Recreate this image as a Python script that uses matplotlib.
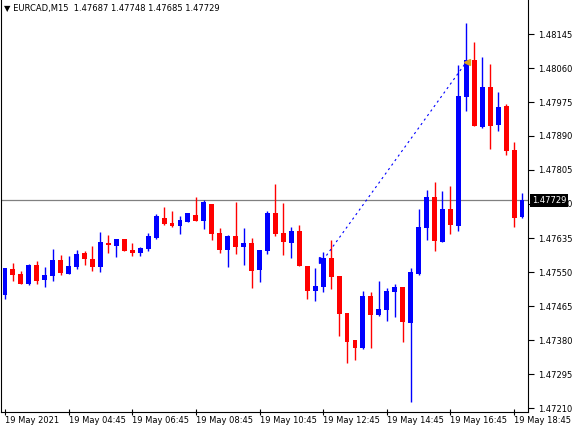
import matplotlib
matplotlib.use('Agg')
from matplotlib import pyplot as plt

opens = [1.47493, 1.47558, 1.47545, 1.47520, 1.47567, 1.47530, 1.47540, 1.47580, 1.47545, 1.47562,
         1.47597, 1.47582, 1.47562, 1.47622, 1.47615, 1.47632, 1.47605, 1.47597, 1.47607, 1.47635,
         1.47685, 1.47672, 1.47665, 1.47675, 1.47692, 1.47677, 1.47720, 1.47647, 1.47605, 1.47640,
         1.47612, 1.47622, 1.47555, 1.47602, 1.47697, 1.47647, 1.47622, 1.47652, 1.47565, 1.47502,
         1.47512, 1.47585, 1.47540, 1.47447, 1.47380, 1.47360, 1.47490, 1.47442, 1.47455, 1.47500,
         1.47512, 1.47422, 1.47545, 1.47660, 1.47737, 1.47625, 1.47707, 1.47665, 1.47987, 1.48080,
         1.47912, 1.48012, 1.47917, 1.47965, 1.47855, 1.47687]
highs = [1.47560, 1.47572, 1.47552, 1.47570, 1.47577, 1.47562, 1.47607, 1.47592, 1.47590, 1.47605,
         1.47602, 1.47615, 1.47650, 1.47642, 1.47632, 1.47633, 1.47622, 1.47612, 1.47647, 1.47695,
         1.47712, 1.47702, 1.47690, 1.47697, 1.47737, 1.47730, 1.47721, 1.47660, 1.47642, 1.47725,
         1.47660, 1.47635, 1.47605, 1.47702, 1.47770, 1.47722, 1.47662, 1.47667, 1.47566, 1.47560,
         1.47600, 1.47630, 1.47541, 1.47448, 1.47381, 1.47502, 1.47500, 1.47528, 1.47510, 1.47520,
         1.47513, 1.47560, 1.47707, 1.47755, 1.47775, 1.47752, 1.47765, 1.48067, 1.48172, 1.48125,
         1.48087, 1.48070, 1.48000, 1.47970, 1.47875, 1.47748]
lows = [1.47482, 1.47528, 1.47520, 1.47517, 1.47520, 1.47512, 1.47528, 1.47542, 1.47545, 1.47558,
        1.47567, 1.47552, 1.47550, 1.47597, 1.47587, 1.47602, 1.47590, 1.47590, 1.47602, 1.47632,
        1.47667, 1.47662, 1.47645, 1.47675, 1.47677, 1.47657, 1.47630, 1.47597, 1.47562, 1.47595,
        1.47567, 1.47510, 1.47525, 1.47595, 1.47640, 1.47592, 1.47585, 1.47565, 1.47482, 1.47477,
        1.47500, 1.47507, 1.47390, 1.47322, 1.47330, 1.47357, 1.47360, 1.47440, 1.47427, 1.47437,
        1.47375, 1.47225, 1.47542, 1.47630, 1.47602, 1.47625, 1.47645, 1.47652, 1.47952, 1.47915,
        1.47910, 1.47857, 1.47902, 1.47842, 1.47662, 1.47685]
closes = [1.47560, 1.47542, 1.47520, 1.47567, 1.47528, 1.47542, 1.47580, 1.47547, 1.47565, 1.47595,
          1.47582, 1.47562, 1.47625, 1.47617, 1.47632, 1.47602, 1.47597, 1.47610, 1.47640, 1.47690,
          1.47670, 1.47665, 1.47680, 1.47697, 1.47677, 1.47725, 1.47645, 1.47605, 1.47640, 1.47612,
          1.47622, 1.47552, 1.47605, 1.47697, 1.47645, 1.47625, 1.47652, 1.47565, 1.47502, 1.47515,
          1.47585, 1.47537, 1.47445, 1.47375, 1.47360, 1.47490, 1.47442, 1.47457, 1.47502, 1.47512,
          1.47425, 1.47550, 1.47662, 1.47737, 1.47627, 1.47707, 1.47667, 1.47990, 1.48080, 1.47915,
          1.48012, 1.47915, 1.47962, 1.47852, 1.47685, 1.47729]

time_labels = ['19 May 2021', '19 May 04:45', '19 May 06:45', '19 May 08:45', '19 May 10:45',
               '19 May 12:45', '19 May 14:45', '19 May 16:45', '19 May 18:45']
price_ticks = [1.48145, 1.48060, 1.47975, 1.47890, 1.47805, 1.47720, 1.47635,
               1.47550, 1.47465, 1.47380, 1.47295, 1.47210]
last_price = 1.47729
# trend line drawn on the chart (bar index, price)
trend_start = (40, 1.47580)
trend_end = (58, 1.48075)

ymin = 1.47200
ymax = 1.48230
fig = plt.figure(figsize=(5.72, 4.32), dpi=100)
ax = fig.add_axes([1 / 572, 20 / 432, 527 / 572, 1 - 20 / 432])
ax.set_xlim(-0.5, 65.75)
ax.set_ylim(ymin, ymax)

for i in range(len(opens)):
    col = '#0000ff' if closes[i] >= opens[i] else '#ff0000'
    ax.vlines(i, lows[i], highs[i], color=col, linewidth=1)
    lo = min(opens[i], closes[i])
    h = max(abs(closes[i] - opens[i]), 0.00002)
    ax.bar(i, h, bottom=lo, width=0.62, color=col, linewidth=0)

ax.axhline(last_price, color='#808080', linewidth=0.9, zorder=0)
ax.plot([trend_start[0], trend_end[0]], [trend_start[1], trend_end[1]],
        color='#0000ff', linestyle=(0, (2, 3)), linewidth=0.8)
ax.plot(trend_start[0] - 0.15, trend_start[1], marker='>', color='#0000ff', markersize=5)
ax.plot(trend_end[0] + 0.1, trend_end[1], marker='<', color='#daa520', markersize=5)

ax.yaxis.tick_right()
ax.set_yticks(price_ticks)
ax.set_yticklabels(['%.5f' % p for p in price_ticks], fontsize=6)
ax.tick_params(axis='y', length=4, width=0.8, pad=3)
ax.set_xticks(range(0, 66, 8))
ax.set_xticklabels(time_labels, fontsize=6, ha='left')
ax.tick_params(axis='x', length=4, width=0.8, pad=1, direction='inout')
ax.text(1.007, (last_price - ymin) / (ymax - ymin), '%.5f' % last_price, transform=ax.transAxes,
        fontsize=6, color='white', va='center', ha='left', zorder=10, clip_on=False,
        bbox=dict(facecolor='black', edgecolor='none', pad=1.5))
ax.text(0.005, 0.99, '\u25bc EURCAD,M15  1.47687 1.47748 1.47685 1.47729', transform=ax.transAxes,
        fontsize=6, va='top', ha='left')
ax.spines['top'].set_visible(False)
for s in ax.spines.values():
    s.set_color('black')
    s.set_linewidth(0.8)

fig.savefig('out.png', dpi=100)
